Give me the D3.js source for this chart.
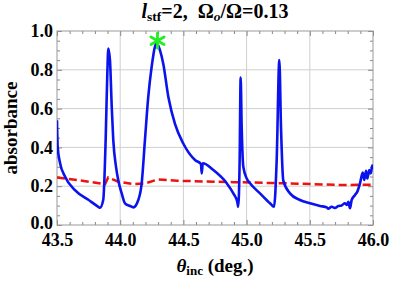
<!DOCTYPE html>
<html>
<head>
<meta charset="utf-8">
<script src="https://d3js.org/d3.v7.min.js"></script>
<style>
  body { margin: 0; background: #fff; }
  svg { display: block; font-family: "Liberation Serif", "Times New Roman", serif; font-weight: bold; }
</style>
</head>
<body>
<svg width="402" height="282"></svg>
<script>
// blue curve: l_stf = 2
const blueX = [43.500, 43.5055, 43.524, 43.563, 43.642, 43.748, 43.827, 43.840, 43.866, 43.885, 43.898, 43.906, 43.919, 43.933, 43.945, 43.967, 43.985, 44.012, 44.038, 44.078, 44.104,
  44.143, 44.170, 44.196, 44.222, 44.249, 44.275, 44.289, 44.315, 44.341, 44.381, 44.434, 44.499, 44.592, 44.639, 44.645, 44.653,
  44.737, 44.843, 44.895, 44.926, 44.934, 44.945, 44.953, 44.961, 44.974, 45.001, 45.027, 45.106, 45.185, 45.217, 45.238, 45.259, 45.272, 45.290,
  45.343, 45.422, 45.502, 45.581, 45.634, 45.646, 45.673, 45.699, 45.725, 45.752, 45.778, 45.792, 45.805, 45.818, 45.831, 45.858, 45.876, 45.897,
  45.919, 45.931, 45.945, 45.955, 45.971, 45.982, 45.992, 46.000];
const blueY = [0.54, 0.40, 0.32, 0.25, 0.18, 0.13, 0.094, 0.089, 0.13, 0.44, 0.78, 0.91, 0.85, 0.61, 0.44, 0.30, 0.23, 0.163, 0.112, 0.098, 0.091,
  0.129, 0.215, 0.44, 0.66, 0.816, 0.92, 0.937, 0.90, 0.83, 0.66, 0.52, 0.42, 0.335, 0.314, 0.266, 0.318,
  0.283, 0.215, 0.163, 0.12, 0.094, 0.335, 0.76, 0.507, 0.30, 0.24, 0.215, 0.163, 0.112, 0.094, 0.335, 0.85, 0.507, 0.23,
  0.163, 0.129, 0.112, 0.098, 0.091, 0.084, 0.094, 0.088, 0.098, 0.101, 0.112, 0.103, 0.12, 0.086, 0.129, 0.155, 0.172, 0.215,
  0.27, 0.232, 0.28, 0.24, 0.283, 0.266, 0.30, 0.31];

// red dashed curve
const redX = [43.50, 43.70, 43.88, 43.905, 43.985, 44.10, 44.20, 44.30, 44.45, 44.90, 45.30, 45.50, 45.75, 46.00];
const redY = [0.245, 0.228, 0.211, 0.245, 0.223, 0.211, 0.215, 0.235, 0.228, 0.221, 0.215, 0.211, 0.206, 0.208];

// marked maximum
const starX = [44.295];
const starY = [0.95];

const xTicks = [43.5, 44.0, 44.5, 45.0, 45.5, 46.0];
const yTicks = [0.0, 0.2, 0.4, 0.6, 0.8, 1.0];

const svg = d3.select("svg");
const pl = 57, pr = 373, pt = 31, pb = 225;

const x = d3.scaleLinear().domain([43.5, 46.0]).range([pl, pr]);
const y = d3.scaleLinear().domain([0, 1]).range([pb, pt]);

// gridlines
svg.append("g").selectAll("line").data(xTicks.slice(1, -1)).join("line")
  .attr("x1", d => x(d)).attr("x2", d => x(d)).attr("y1", pt).attr("y2", pb)
  .attr("stroke", "#cfcfcf").attr("stroke-width", 1);
svg.append("g").selectAll("line").data(yTicks.slice(1, -1)).join("line")
  .attr("y1", d => y(d)).attr("y2", d => y(d)).attr("x1", pl).attr("x2", pr)
  .attr("stroke", "#cfcfcf").attr("stroke-width", 1);

// ticks, inside, on all four sides
const xMinor = d3.range(0, 26).map(i => 43.5 + i * 0.1);
const yMinor = d3.range(0, 21).map(i => i * 0.05);
function addAxis(axis, tr) {
  const g = svg.append("g").attr("transform", tr).call(axis);
  g.select(".domain").remove();
  g.selectAll("line").attr("stroke", "#888");
  return g;
}
const isMajor = (d, step) => Math.abs(d / step - Math.round(d / step)) < 1e-6;
addAxis(d3.axisBottom(x).tickValues(xMinor).tickSize(0).tickFormat(""), `translate(0,${pb})`)
  .selectAll(".tick line").attr("y2", d => isMajor(d, 0.5) ? -5 : -3);
addAxis(d3.axisTop(x).tickValues(xMinor).tickSize(0).tickFormat(""), `translate(0,${pt})`)
  .selectAll(".tick line").attr("y2", d => isMajor(d, 0.5) ? 5 : 3);
addAxis(d3.axisLeft(y).tickValues(yMinor).tickSize(0).tickFormat(""), `translate(${pl},0)`)
  .selectAll(".tick line").attr("x2", d => isMajor(d, 0.2) ? 5 : 3);
addAxis(d3.axisRight(y).tickValues(yMinor).tickSize(0).tickFormat(""), `translate(${pr},0)`)
  .selectAll(".tick line").attr("x2", d => isMajor(d, 0.2) ? -5 : -3);

// frame
svg.append("rect").attr("x", pl).attr("y", pt).attr("width", pr - pl).attr("height", pb - pt)
  .attr("fill", "none").attr("stroke", "#999").attr("stroke-width", 1);

// tick labels
const xLab = d3.axisBottom(x).tickValues(xTicks).tickSize(0).tickPadding(8).tickFormat(d3.format(".1f"));
const gx = svg.append("g").attr("transform", `translate(0,${pb})`).call(xLab);
gx.select(".domain").remove();
gx.selectAll("text").attr("font-size", 18).attr("font-family", "Liberation Serif, serif").attr("font-weight", "bold").attr("fill", "#000");

const yLab = d3.axisLeft(y).tickValues(yTicks).tickSize(0).tickPadding(4).tickFormat(d3.format(".1f"));
const gy = svg.append("g").attr("transform", `translate(${pl},0)`).call(yLab);
gy.select(".domain").remove();
gy.selectAll("text").attr("font-size", 18).attr("font-family", "Liberation Serif, serif").attr("font-weight", "bold").attr("fill", "#000")
  .attr("dy", d => d === 0 ? "0.2em" : "0.32em");

// curves
svg.append("defs").append("clipPath").attr("id", "clip").append("rect")
  .attr("x", pl).attr("y", pt - 10).attr("width", pr - pl).attr("height", pb - pt + 10);

svg.append("path").datum(d3.zip(redX, redY))
  .attr("d", d3.line().x(d => x(d[0])).y(d => y(d[1])))
  .attr("fill", "none").attr("stroke", "#ee1111").attr("stroke-width", 2.5)
  .attr("stroke-dasharray", "8,4").attr("clip-path", "url(#clip)");

svg.append("path").datum(d3.zip(blueX, blueY))
  .attr("d", d3.line().x(d => x(d[0])).y(d => y(d[1])).curve(d3.curveMonotoneX))
  .attr("fill", "none").attr("stroke", "#0a12ee").attr("stroke-width", 2.6)
  .attr("stroke-linejoin", "round").attr("clip-path", "url(#clip)");

// green asterisk at the maximum
const star = svg.append("g").selectAll("g").data(d3.zip(starX, starY)).join("g")
  .attr("transform", d => `translate(${x(d[0])},${y(d[1])})`);
[0, 60, 120].forEach(a => {
  const r = 7.5, t = a * Math.PI / 180;
  star.append("line")
    .attr("x1", r * Math.sin(t)).attr("y1", -r * Math.cos(t))
    .attr("x2", -r * Math.sin(t)).attr("y2", r * Math.cos(t))
    .attr("stroke", "#22ee22").attr("stroke-width", 2.8).attr("stroke-linecap", "round");
});

// title
const title = svg.append("text").attr("x", (pl + pr) / 2).attr("y", 18)
  .attr("text-anchor", "middle").attr("font-size", 20);
title.append("tspan").attr("font-style", "italic").text("l");
title.append("tspan").attr("font-size", 13.5).attr("dy", 3).text("stf");
title.append("tspan").attr("dy", -3).text("=2,\u00a0\u00a0Ω");
title.append("tspan").attr("font-size", 13.5).attr("dy", 3).attr("font-style", "italic").text("o");
title.append("tspan").attr("dy", -3).text("/Ω=0.13");

// axis labels
const xl = svg.append("text").attr("x", (pl + pr) / 2).attr("y", 272)
  .attr("text-anchor", "middle").attr("font-size", 19);
xl.append("tspan").attr("font-style", "italic").text("θ");
xl.append("tspan").attr("font-size", 13).attr("dy", 3).text("inc");
xl.append("tspan").attr("dy", -3).text(" (deg.)");

svg.append("text").attr("transform", `translate(17,${(pt + pb) / 2}) rotate(-90)`)
  .attr("text-anchor", "middle").attr("font-size", 19).text("absorbance");
</script>
</body>
</html>
